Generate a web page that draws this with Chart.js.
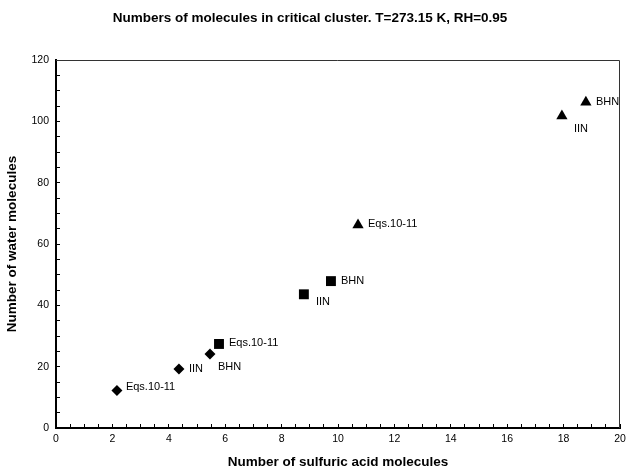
<!DOCTYPE html>
<html>
<head>
<meta charset="utf-8">
<script src="https://cdn.jsdelivr.net/npm/chart.js@4"></script>
<style>
  body { margin: 0; background: #fff; }
  canvas { display: block; }
</style>
</head>
<body>
<canvas id="chart" width="627" height="471"></canvas>
<script>
'use strict';

// ******* DATA *******
let methods = ['Eqs.10-11', 'IIN', 'BHN'];
let seriesNames = ['Set 1', 'Set 2', 'Set 3'];

let acidSet1 = [2.16, 4.36, 5.46];
let waterSet1 = [12.2, 19.2, 24.1];

let acidSet2 = [5.78, 8.79, 9.75];
let waterSet2 = [27.4, 43.6, 47.9];

let acidSet3 = [10.71, 17.94, 18.79];
let waterSet3 = [66.2, 101.7, 106.2];

let xTickMarks = [0, 20, 0.5];   // min, max, step (labels every 2)
let yTickMarks = [0, 120, 5];    // min, max, step (labels every 20)

// ***** LABEL PLACEMENT (px from point) *****
let labelOffsets = [
  [[9, -4], [10, 0], [8, 13]],
  [[10, -1], [12, 8], [10, 0]],
  [[10, -1], [12, 13], [10, 0]]
];

// ***** HELPERS *****
function toPoints(xs, ys) {
  let pts = [];
  for (let i = 0; i < xs.length; i++) {
    pts.push({ x: xs[i], y: ys[i] });
  }
  return pts;
}

Chart.defaults.font.family = "'Liberation Sans', Arial, sans-serif";
Chart.defaults.font.size = 10.5;
Chart.defaults.color = '#000';

// frame on top/right + text next to each marker
let framePlugin = {
  id: 'frame',
  beforeDatasetsDraw(chart) {
    let a = chart.chartArea;
    let ctx = chart.ctx;
    ctx.save();
    ctx.strokeStyle = '#333';
    ctx.lineWidth = 1;
    ctx.beginPath();
    ctx.moveTo(a.left, a.top + 0.5);
    ctx.lineTo(a.right - 0.5, a.top + 0.5);
    ctx.lineTo(a.right - 0.5, a.bottom);
    ctx.stroke();
    ctx.restore();
  }
};

let pointLabelPlugin = {
  id: 'pointLabels',
  afterDatasetsDraw(chart) {
    let ctx = chart.ctx;
    ctx.save();
    ctx.font = "11px 'Liberation Sans', Arial, sans-serif";
    ctx.fillStyle = '#000';
    ctx.textAlign = 'left';
    ctx.textBaseline = 'middle';
    for (let i = 0; i < chart.data.datasets.length; i++) {
      let meta = chart.getDatasetMeta(i);
      for (let j = 0; j < meta.data.length; j++) {
        let el = meta.data[j];
        let off = labelOffsets[i][j];
        ctx.fillText(methods[j], el.x + off[0], el.y + off[1]);
      }
    }
    ctx.restore();
  }
};

let canvasElem = document.getElementById('chart');

let chartObj = {
  type: 'scatter',
  data: {
    datasets: [
      {
        label: seriesNames[0],
        data: toPoints(acidSet1, waterSet1),
        pointStyle: 'rectRot',
        pointRadius: 5.5,
        backgroundColor: '#000',
        borderColor: '#000',
        borderWidth: 0
      },
      {
        label: seriesNames[1],
        data: toPoints(acidSet2, waterSet2),
        pointStyle: 'rect',
        pointRadius: 7,
        backgroundColor: '#000',
        borderColor: '#000',
        borderWidth: 0
      },
      {
        label: seriesNames[2],
        data: toPoints(acidSet3, waterSet3),
        pointStyle: 'triangle',
        pointRadius: 6.5,
        backgroundColor: '#000',
        borderColor: '#000',
        borderWidth: 0
      }
    ]
  },
  options: {
    responsive: false,
    animation: false,
    devicePixelRatio: 1,
    layout: {
      padding: { left: 0, right: 7, top: 0, bottom: 0 }
    },
    plugins: {
      legend: { display: false },
      tooltip: { enabled: false },
      title: {
        display: true,
        text: 'Numbers of molecules in critical cluster. T=273.15 K, RH=0.95',
        font: { size: 13.5, weight: 'bold' },
        color: '#000',
        padding: { top: 10, bottom: 33.8 }
      }
    },
    scales: {
      x: {
        type: 'linear',
        min: xTickMarks[0],
        max: xTickMarks[1],
        afterFit: function (scale) {
          scale.height = 43;
          scale.paddingLeft = 0;
          scale.paddingRight = 0;
        },
        ticks: {
          stepSize: xTickMarks[2],
          autoSkip: false,
          maxRotation: 0,
          padding: 9,
          callback: function (value) {
            return Number.isInteger(value / 2) ? value : '';
          }
        },
        grid: {
          drawOnChartArea: false,
          drawTicks: true,
          tickLength: -4,
          color: '#000',
          lineWidth: 1
        },
        border: { display: true, color: '#000', width: 2 },
        title: {
          display: true,
          text: 'Number of sulfuric acid molecules',
          font: { size: 13.5, weight: 'bold' },
          color: '#000',
          padding: { top: 0, bottom: 1 }
        }
      },
      y: {
        type: 'linear',
        min: yTickMarks[0],
        max: yTickMarks[1],
        afterFit: function (scale) {
          scale.width = 56;
          scale.paddingTop = 0;
          scale.paddingBottom = 0;
        },
        ticks: {
          stepSize: yTickMarks[2],
          autoSkip: false,
          padding: 11,
          callback: function (value) {
            return Number.isInteger(value / 20) ? value : '';
          }
        },
        grid: {
          drawOnChartArea: false,
          drawTicks: true,
          tickLength: -4,
          color: '#000',
          lineWidth: 1
        },
        border: { display: true, color: '#000', width: 2 },
        title: {
          display: true,
          text: 'Number of water molecules',
          font: { size: 13.5, weight: 'bold' },
          color: '#000',
          padding: { top: 4, bottom: 0 }
        }
      }
    }
  },
  plugins: [framePlugin, pointLabelPlugin]
};

new Chart(canvasElem, chartObj);
</script>
</body>
</html>
